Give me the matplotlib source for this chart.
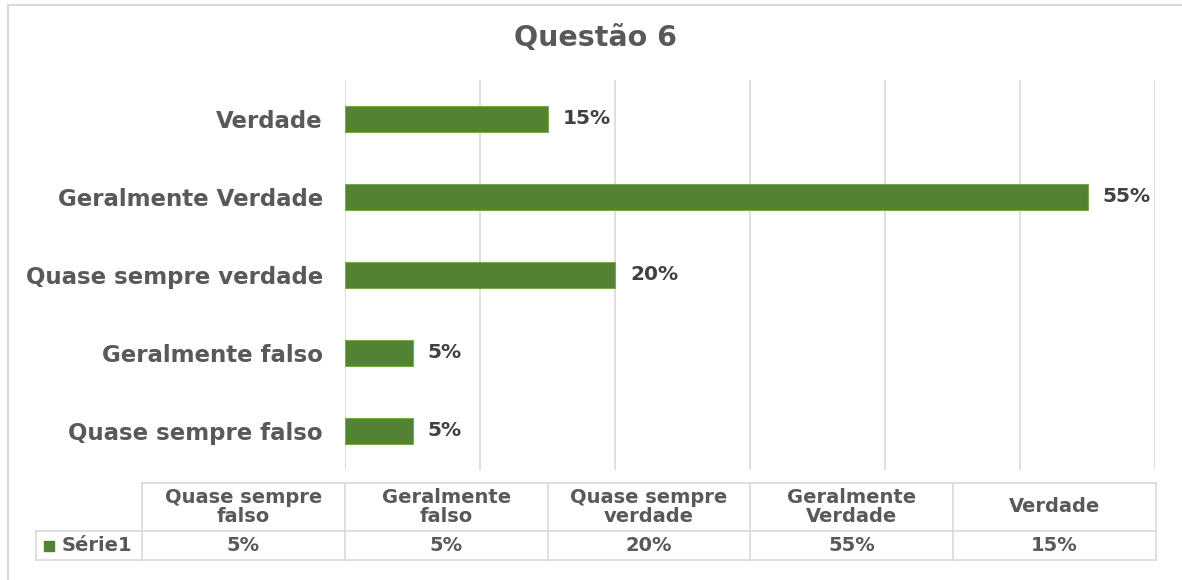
import matplotlib.pyplot as plt
from matplotlib.lines import Line2D
from matplotlib.patches import Rectangle

# data
categorias = ['Quase sempre falso', 'Geralmente falso', 'Quase sempre verdade',
              'Geralmente Verdade', 'Verdade']
cab_tabela = ['Quase sempre\nfalso', 'Geralmente\nfalso', 'Quase sempre\nverdade',
              'Geralmente\nVerdade', 'Verdade']
valores = [0.05, 0.05, 0.20, 0.55, 0.15]
serie = 'Série1'

verde = '#548235'
cinza = '#595959'
grade = '#d9d9d9'

plt.rcParams['font.family'] = ['DejaVu Sans']

W, H = 1182, 580
fig = plt.figure(figsize=(W / 100, H / 100), dpi=100)


def fx(px):
    return px / W


def fy(py):
    return 1 - py / H


# plot area: x 345..1155, y 80..470
ax = fig.add_axes([fx(345), fy(470), fx(1155) - fx(345), fy(80) - fy(470)])
ypos = list(range(len(categorias)))
ax.barh(ypos, valores, height=0.33, color=verde, edgecolor='#70ad47', linewidth=0.8, zorder=3)
ax.set_xlim(0, 0.6)
ax.set_ylim(-0.5, len(categorias) - 0.5)
ax.set_xticks([i / 10 for i in range(7)])
ax.set_xticklabels([])
ax.tick_params(axis='x', length=0)
ax.grid(axis='x', color=grade, linewidth=1.2, zorder=0)
ax.set_yticks(ypos)
ax.set_yticklabels(categorias, fontsize=16.5, fontweight='bold', color=cinza)
ax.tick_params(axis='y', length=0, pad=16)
for s in ax.spines.values():
    s.set_visible(False)

for y, v in zip(ypos, valores):
    ax.annotate(f'{v * 100:.0f}%', (v, y), xytext=(11, 0), textcoords='offset points',
                va='center', ha='left', fontsize=14.5, fontweight='bold', color='#404040')

fig.text(fx(596), fy(38), 'Questão 6', ha='center', va='center',
         fontsize=20.5, fontweight='bold', color=cinza)

# outer chart border
fig.add_artist(Line2D([fx(8), fx(1182)], [fy(5), fy(5)], color=grade, lw=1.5))
fig.add_artist(Line2D([fx(8), fx(8)], [fy(5), fy(580)], color=grade, lw=1.5))

# data table
x0, x1 = 142, 1156
lx = 36
ytop, ymid, ybot = 483, 531, 560
cw = (x1 - x0) / len(categorias)


def hline(xa, xb, y):
    fig.add_artist(Line2D([fx(xa), fx(xb)], [fy(y), fy(y)], color=grade, lw=1.2))


def vline(x, ya, yb):
    fig.add_artist(Line2D([fx(x), fx(x)], [fy(ya), fy(yb)], color=grade, lw=1.2))


hline(x0, x1, ytop)
hline(lx, x1, ymid)
hline(lx, x1, ybot)
vline(lx, ymid, ybot)
for i in range(len(categorias) + 1):
    vline(x0 + i * cw, ytop, ybot)

for i, (c, v) in enumerate(zip(cab_tabela, valores)):
    cx = x0 + (i + 0.5) * cw
    fig.text(fx(cx), fy((ytop + ymid) / 2), c, ha='center', va='center',
             fontsize=14, fontweight='bold', color=cinza, linespacing=1.05)
    fig.text(fx(cx), fy((ymid + ybot) / 2), f'{v * 100:.0f}%', ha='center', va='center',
             fontsize=14, fontweight='bold', color=cinza)

fig.add_artist(Rectangle((fx(44), fy(551)), fx(10), fy(541) - fy(551), color=verde))
fig.text(fx(62), fy((ymid + ybot) / 2), serie, ha='left', va='center',
         fontsize=14, fontweight='bold', color=cinza)

fig.savefig('out.png', dpi=100, facecolor='white')
